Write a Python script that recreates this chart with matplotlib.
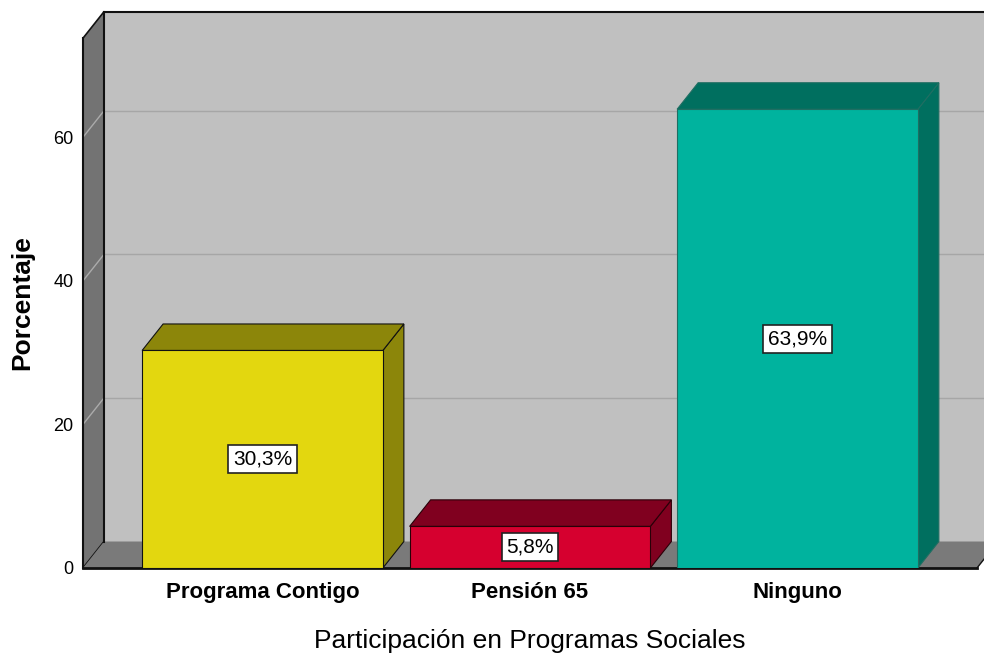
import matplotlib
matplotlib.use("Agg")
import matplotlib.pyplot as plt
from matplotlib.patches import Polygon, Rectangle

plt.rcParams['font.family'] = ['Liberation Sans', 'DejaVu Sans']

# datos
categorias = ["Programa Contigo", "Pensión 65", "Ninguno"]
porcentajes = [30.3, 5.8, 63.9]
etiquetas = ["30,3%", "5,8%", "63,9%"]
ticks_y = [0, 20, 40, 60]
color_frente = ["#E3D70F", "#D6002F", "#00B39E"]
color_sombra = ["#8C860A", "#80001F", "#006F5F"]
color_borde = ["#111111", "#2a0008", "#1f6e62"]

# geometria 3D (unidades de datos)
ancho = 0.9
ddx = 0.0785
ddy = 3.69
x0, xr = -0.671, 2.671
y_top = 73.8

fig = plt.figure(figsize=(9.84, 6.58), dpi=100)
ax = fig.add_axes([83 / 984, 90 / 658, 917 / 984, 556.4 / 658])
ax.set_xlim(x0, 2.757)
ax.set_ylim(0, 77.5)

# pared del fondo
ax.add_patch(Polygon([(x0 + ddx, ddy), (xr + ddx, ddy), (xr + ddx, y_top + ddy), (x0 + ddx, y_top + ddy)],
                     closed=True, facecolor="#C0C0C0", edgecolor="none", zorder=1, clip_on=False))
# pared izquierda
ax.add_patch(Polygon([(x0, 0), (x0 + ddx, ddy), (x0 + ddx, y_top + ddy), (x0, y_top)],
                     closed=True, facecolor="#737373", edgecolor="#111111", lw=1.2, zorder=2, clip_on=False))
# piso
ax.add_patch(Polygon([(x0, 0), (xr, 0), (xr + ddx, ddy), (x0 + ddx, ddy)],
                     closed=True, facecolor="#7A7A7A", edgecolor="none", zorder=2, clip_on=False))
ax.plot([x0, xr], [0, 0], color="#111111", lw=2, zorder=3, clip_on=False)
ax.plot([xr, xr + ddx], [0, ddy], color="#111111", lw=1, zorder=3, clip_on=False)
ax.plot([x0 + ddx, xr + ddx], [y_top + ddy, y_top + ddy], color="#111111", lw=1.5, zorder=3, clip_on=False)

# lineas de cuadricula
for v in ticks_y[1:]:
    ax.plot([x0 + ddx, xr + ddx], [v + ddy, v + ddy], color="#A6A6A6", lw=1, zorder=1.5)
    ax.plot([x0, x0 + ddx], [v, v + ddy], color="#ABABAB", lw=1, zorder=2.5)
ax.plot([x0, x0], [0, y_top], color="#111111", lw=1.5, zorder=3, clip_on=False)
ax.plot([x0 + ddx, x0 + ddx], [ddy, y_top + ddy], color="#111111", lw=1.5, zorder=3, clip_on=False)

# barras
for i, v in enumerate(porcentajes):
    xl = i - ancho / 2
    xd = i + ancho / 2
    z = 4 + i
    ax.add_patch(Polygon([(xd, 0), (xd + ddx, ddy), (xd + ddx, v + ddy), (xd, v)], closed=True,
                         facecolor=color_sombra[i], edgecolor=color_borde[i], lw=0.8, zorder=z))
    ax.add_patch(Polygon([(xl, v), (xd, v), (xd + ddx, v + ddy), (xl + ddx, v + ddy)], closed=True,
                         facecolor=color_sombra[i], edgecolor=color_borde[i], lw=0.8, zorder=z))
    ax.add_patch(Rectangle((xl, 0), ancho, v, facecolor=color_frente[i], edgecolor=color_borde[i],
                           lw=0.8, zorder=z + 0.1))
    ax.text(i, v / 2, etiquetas[i], ha="center", va="center", fontsize=15, zorder=10,
            bbox=dict(boxstyle="square,pad=0.22", facecolor="white", edgecolor="#222222", lw=1.2))

# ejes
for s in ax.spines.values():
    s.set_visible(False)
ax.set_yticks(ticks_y)
ax.set_yticklabels([str(t) for t in ticks_y], fontsize=13)
ax.set_xticks(range(len(categorias)))
ax.set_xticklabels(categorias, fontsize=16, fontweight="bold")
ax.tick_params(axis="y", length=0, pad=7)
ax.tick_params(axis="x", length=0, pad=10)

ax.set_xlabel("Participación en Programas Sociales", fontsize=19)
ax.xaxis.label.set_va("center")
ax.xaxis.set_label_coords((530 - 83) / 917, (568 - 641) / 556.4)
ax.set_ylabel("Porcentaje", fontsize=19, fontweight="bold")
ax.yaxis.label.set_va("center")
ax.yaxis.set_label_coords((22 - 83) / 917, (568 - 303) / 556.4)

fig.savefig("out.png", dpi=100)
